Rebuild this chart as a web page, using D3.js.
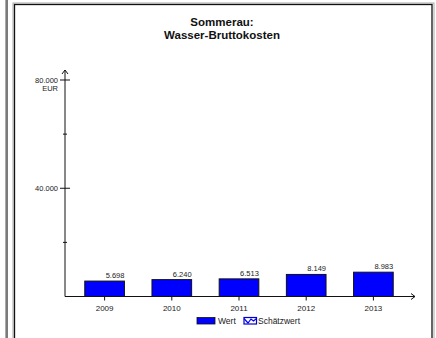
<!DOCTYPE html>
<html>
<head>
<meta charset="utf-8">
<script src="https://cdn.jsdelivr.net/npm/d3@7"></script>
<style>
  html, body { margin: 0; padding: 0; background: #fff; }
  svg { display: block; font-family: "Liberation Sans", Arial, sans-serif; }
</style>
</head>
<body>
<script>
const titleLines = ["Sommerau:", "Wasser-Bruttokosten"];
const years = ["2009", "2010", "2011", "2012", "2013"];
const values = [5698, 6240, 6513, 8149, 8983];
const yMajorTicks = [40000, 80000];
const yMinorTicks = [20000, 60000];
const yUnit = "EUR";
const legendLabels = ["Wert", "Schätzwert"];

const W = 436, H = 338;
const svg = d3.select("body").append("svg").attr("width", W).attr("height", H);

// neighbouring panel edge
svg.append("line").attr("x1", 5.5).attr("x2", 5.5).attr("y1", 0).attr("y2", H).attr("stroke", "#aaa").attr("stroke-width", 1);
svg.append("line").attr("x1", 7).attr("x2", 7).attr("y1", 0).attr("y2", H).attr("stroke", "#222").attr("stroke-width", 1.2);

// frame
svg.append("rect").attr("x", 13).attr("y", 3).attr("width", 421).attr("height", H + 10)
  .attr("fill", "none").attr("stroke", "#aaa").attr("stroke-width", 1);
svg.append("rect").attr("x", 14.5).attr("y", 4.5).attr("width", 417.5).attr("height", H + 10)
  .attr("fill", "none").attr("stroke", "#111").attr("stroke-width", 1.3);

const fmt = d3.format(",.0f");
const de = v => fmt(v).replace(/,/g, ".");

// title
svg.append("text").attr("x", 222).attr("y", 26).attr("text-anchor", "middle")
  .attr("font-size", 11.5).attr("font-weight", "bold").attr("fill", "#111")
  .selectAll("tspan").data(titleLines).join("tspan")
  .attr("x", 222).attr("dy", (d, i) => i === 0 ? 0 : 13).text(d => d);

const x0 = 65, yBase = 296.5;
const y = d3.scaleLinear().domain([0, 80000]).range([yBase, 80]);
const x = d3.scaleBand().domain(years).range([71, 407]).paddingInner(0.41).paddingOuter(0.205);

// bars
svg.append("g").selectAll("rect").data(values).join("rect")
  .attr("x", (d, i) => x(years[i]))
  .attr("y", d => y(d))
  .attr("width", x.bandwidth())
  .attr("height", d => yBase - y(d))
  .attr("fill", "#0000ff").attr("stroke", "#111").attr("stroke-width", 1);

// value labels
svg.append("g").selectAll("text").data(values).join("text")
  .attr("x", (d, i) => x(years[i]) + x.bandwidth())
  .attr("y", d => y(d) - 3)
  .attr("text-anchor", "end").attr("font-size", 7.5).attr("fill", "#222")
  .text(d => de(d));

// y axis
const ax = svg.append("g").attr("stroke", "#111").attr("stroke-width", 1);
ax.append("line").attr("x1", x0).attr("x2", x0).attr("y1", yBase).attr("y2", 70);
ax.append("path").attr("d", `M${x0 - 3},${74} L${x0},${70} L${x0 + 3},${74}`).attr("fill", "none");
ax.selectAll(".maj").data(yMajorTicks).join("line").attr("class", "maj")
  .attr("x1", x0 - 5).attr("x2", x0 + 5).attr("y1", d => y(d)).attr("y2", d => y(d));
ax.selectAll(".min").data(yMinorTicks).join("line").attr("class", "min")
  .attr("x1", x0 - 2).attr("x2", x0 + 2).attr("y1", d => y(d)).attr("y2", d => y(d));
svg.append("g").selectAll("text").data(yMajorTicks).join("text")
  .attr("x", 58).attr("y", d => y(d) + 2.7).attr("text-anchor", "end")
  .attr("font-size", 7.5).attr("fill", "#222").text(d => de(d));
svg.append("text").attr("x", 58).attr("y", y(80000) + 11).attr("text-anchor", "end")
  .attr("font-size", 7.5).attr("fill", "#222").text(yUnit);

// x axis
ax.append("line").attr("x1", x0).attr("x2", 415).attr("y1", yBase).attr("y2", yBase);
ax.append("path").attr("d", `M411,${yBase - 3} L415,${yBase} L411,${yBase + 3}`).attr("fill", "none");
ax.selectAll(".xt").data(years).join("line").attr("class", "xt")
  .attr("x1", d => x(d) + x.bandwidth() / 2).attr("x2", d => x(d) + x.bandwidth() / 2)
  .attr("y1", yBase).attr("y2", yBase + 4);
svg.append("g").selectAll("text").data(years).join("text")
  .attr("x", d => x(d) + x.bandwidth() / 2).attr("y", 311)
  .attr("text-anchor", "middle").attr("font-size", 8).attr("fill", "#222").text(d => d);

// legend
const lg = svg.append("g");
lg.append("rect").attr("x", 197).attr("y", 317.5).attr("width", 18).attr("height", 6.5)
  .attr("fill", "#0000ff").attr("stroke", "#111").attr("stroke-width", 0.8);
lg.append("text").attr("x", 218).attr("y", 324).attr("font-size", 8.5).attr("fill", "#222").text(legendLabels[0]);
lg.append("rect").attr("x", 244).attr("y", 317.5).attr("width", 12.5).attr("height", 6.5)
  .attr("fill", "#fff").attr("stroke", "#0000cc").attr("stroke-width", 1.2);
lg.append("path").attr("d", "M244,318.5 L248,323 L251,319 L253.5,321 L256.5,318.5")
  .attr("fill", "none").attr("stroke", "#0000ff").attr("stroke-width", 1.2);
lg.append("text").attr("x", 258).attr("y", 324).attr("font-size", 8.5).attr("fill", "#222").text(legendLabels[1]);
</script>
</body>
</html>
